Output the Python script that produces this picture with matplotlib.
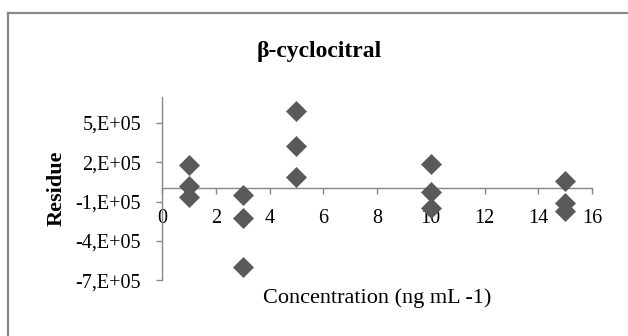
import matplotlib.pyplot as plt
from matplotlib.lines import Line2D
from matplotlib.ticker import FixedLocator, FuncFormatter

# Residuals of the calibration for beta-cyclocitral
conc = [1, 1, 1, 3, 3, 3, 5, 5, 5, 10, 10, 10, 15, 15, 15]
residue = [1.77e5, 0.18e5, -0.64e5,
           -0.46e5, -2.28e5, -5.97e5,
           5.89e5, 3.24e5, 0.84e5,
           1.83e5, -0.26e5, -1.52e5,
           0.58e5, -1.07e5, -1.70e5]

x_ticks = [0, 2, 4, 6, 8, 10, 12, 14, 16]
y_ticks = [-7e5, -4e5, -1e5, 2e5, 5e5]

plt.rcParams['font.family'] = ['Liberation Serif', 'DejaVu Serif']

fig = plt.figure(figsize=(6.28, 3.36), dpi=100)
ax = fig.add_axes([0.258, 0.1658, 0.6847, 0.5464])

axis_grey = '#868686'
ax.plot(conc, residue, linestyle='none', marker='D', markersize=10.5,
        color='#595959', markeredgecolor='#595959', markeredgewidth=0.5,
        zorder=3, clip_on=False)

ax.set_xlim(0, 16)
ax.set_ylim(-7e5, 7e5)

# Excel-like axes: y axis at x=0, x axis crossing at y=0
for side in ('top', 'right'):
    ax.spines[side].set_visible(False)
ax.spines['bottom'].set_position(('data', 0))
for side in ('left', 'bottom'):
    ax.spines[side].set_color(axis_grey)
    ax.spines[side].set_linewidth(1.0)

ax.xaxis.set_major_locator(FixedLocator(x_ticks))
ax.yaxis.set_major_locator(FixedLocator(y_ticks))
ax.yaxis.set_major_formatter(FuncFormatter(lambda v, p: f"{int(round(v / 1e5))},E+05"))
ax.xaxis.set_major_formatter(FuncFormatter(lambda v, p: f"{int(v)}"))
ax.tick_params(axis='x', direction='out', length=4, width=1.0, color=axis_grey,
               labelsize=14.5, pad=10.5)
ax.tick_params(axis='y', direction='out', length=4, width=1.0, color=axis_grey,
               labelsize=14.5, pad=11)

fig.text(0.5085, 0.846, 'β-cyclocitral', ha='center', va='center',
         fontsize=17, fontweight='bold')
fig.text(0.601, 0.113, 'Concentration (ng mL -1)', ha='center', va='center',
         fontsize=16)
fig.text(0.0905, 0.44, 'Residue', ha='center', va='center', rotation=90,
         fontsize=16, fontweight='bold')

# chart area frame
frame_kw = dict(color='#888888', linewidth=1.6, transform=fig.transFigure)
fig.add_artist(Line2D([0.0135, 1.0], [0.9615, 0.9615], **frame_kw))
fig.add_artist(Line2D([0.0135, 0.0135], [0.0, 0.9615], **frame_kw))

fig.savefig('out.png', dpi=100, facecolor='white')
